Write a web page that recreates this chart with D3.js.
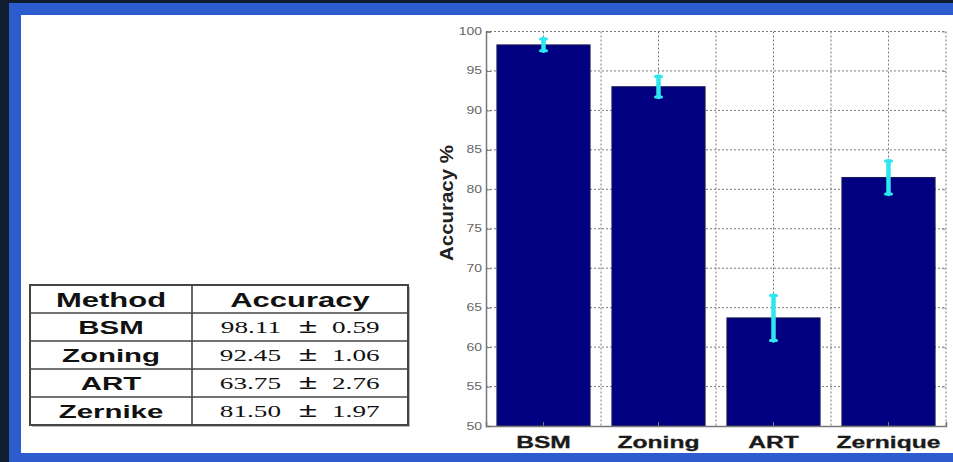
<!DOCTYPE html>
<html lang="en">
<head>
  <meta charset="UTF-8">
  <title>accuracy bar chart</title>
  <script src="https://cdn.jsdelivr.net/npm/d3@7/dist/d3.min.js"></script>
  <style>
    html, body { margin: 0; padding: 0; background: #101d2f; overflow: hidden; }
    svg { display: block; }
  </style>
</head>
<body>
<script>
  // chart data
  const categories = ['BSM', 'Zoning', 'ART', 'Zernique'];
  const barValues = [98.3, 93.0, 63.7, 81.5];
  const errValues = [0.75, 1.3, 2.85, 2.1];
  const yTicks = [50, 55, 60, 65, 70, 75, 80, 85, 90, 95, 100];

  // table data
  const tableHeader = ['Method', 'Accuracy'];
  const tableMethods = ['BSM', 'Zoning', 'ART', 'Zernike'];
  const tableMeans = ['98.11', '92.45', '63.75', '81.50'];
  const tableStds = ['0.59', '1.06', '2.76', '1.97'];

  const width = 953, height = 462;
  const margin = { top: 31.5, right: 7, bottom: 36, left: 486 };

  const svg = d3.select('body').append('svg')
    .attr('width', width).attr('height', height)
    .attr('viewBox', [0, 0, width, height]);

  // slide frame
  svg.append('rect').attr('x', 9).attr('y', 3).attr('width', width - 9).attr('height', height - 3).attr('fill', '#2c5cce');
  svg.append('rect').attr('x', 21).attr('y', 15).attr('width', width - 21).attr('height', 438).attr('fill', '#fff');

  const x = d3.scaleBand()
    .domain(categories)
    .range([margin.left, width - margin.right])
    .paddingInner(0.19)
    .paddingOuter(0.095);

  const y = d3.scaleLinear()
    .domain([50, 100])
    .range([height - margin.bottom, margin.top]);

  const gridColor = '#7a7a7a';

  // grid
  const grid = svg.append('g').attr('stroke', gridColor).attr('stroke-width', 1).attr('stroke-dasharray', '2,2');
  grid.selectAll('.hg').data(yTicks.filter(d => d > 50)).join('line')
    .attr('x1', margin.left).attr('x2', width - margin.right)
    .attr('y1', d => y(d)).attr('y2', d => y(d));
  const vx = categories.map(c => x(c) + x.bandwidth() / 2)
    .concat(d3.range(1, categories.length + 1).map(k => margin.left + k * x.step()));
  grid.selectAll('.vg').data(vx).join('line')
    .attr('x1', d => d).attr('x2', d => d)
    .attr('y1', y(100)).attr('y2', y(50));

  // y axis
  svg.append('g')
    .attr('transform', `translate(${margin.left},0)`)
    .call(d3.axisRight(y).tickValues(yTicks).tickSize(5).tickFormat(''))
    .call(g => g.selectAll('line').attr('stroke', '#777'))
    .call(g => g.select('.domain').attr('stroke', '#777').attr('stroke-width', 1.5));

  svg.append('g')
    .attr('transform', `translate(${width - margin.right},0)`)
    .call(d3.axisLeft(y).tickValues(yTicks).tickSize(4).tickFormat(''))
    .call(g => g.selectAll('line').attr('stroke', '#999'))
    .call(g => g.select('.domain').remove());

  svg.append('g').selectAll('text').data(yTicks).join('text')
    .attr('transform', d => `translate(${margin.left - 4},${y(d) + 3.5}) scale(1.4,1)`)
    .attr('text-anchor', 'end')
    .attr('font-family', 'Liberation Sans, Arial, sans-serif')
    .attr('font-size', 10)
    .attr('fill', '#666')
    .text(d => d);

  svg.append('text')
    .attr('transform', `translate(453,203) rotate(-90)`)
    .attr('text-anchor', 'middle')
    .attr('font-family', 'Liberation Sans, Arial, sans-serif')
    .attr('font-weight', 'bold')
    .attr('font-size', 18)
    .attr('textLength', 116)
    .attr('lengthAdjust', 'spacingAndGlyphs')
    .attr('fill', '#222')
    .text('Accuracy %');

  // bars
  svg.append('g').selectAll('rect').data(categories).join('rect')
    .attr('x', c => x(c))
    .attr('y', (c, i) => y(barValues[i]))
    .attr('width', x.bandwidth())
    .attr('height', (c, i) => y(50) - y(barValues[i]))
    .attr('fill', '#000080')
    .attr('stroke', '#1a1a50')
    .attr('stroke-width', 1);

  // bottom axis
  svg.append('g')
    .attr('transform', `translate(0,${y(50)})`)
    .call(d3.axisTop(x).tickSize(4).tickFormat(''))
    .call(g => g.selectAll('line').attr('stroke', '#777'))
    .call(g => g.select('.domain').attr('stroke', '#777').attr('stroke-width', 1.5));

  svg.append('g').selectAll('text').data(categories).join('text')
    .attr('transform', c => `translate(${x(c) + x.bandwidth() / 2},448) scale(1.45,1)`)
    .attr('text-anchor', 'middle')
    .attr('font-family', 'Liberation Sans, Arial, sans-serif')
    .attr('font-weight', 'bold')
    .attr('font-size', 17)
    .attr('fill', '#1a1a1a')
    .attr('stroke', '#1a1a1a').attr('stroke-width', 0.3)
    .text(c => c);

  // error bars
  const eb = svg.append('g').attr('stroke', '#2ee6f0').attr('stroke-linecap', 'round');
  categories.forEach((c, i) => {
    const cx = x(c) + x.bandwidth() / 2;
    const lo = y(barValues[i] - errValues[i]), hi = y(barValues[i] + errValues[i]);
    eb.append('line').attr('x1', cx).attr('x2', cx).attr('y1', lo).attr('y2', hi).attr('stroke-width', 4.5);
    eb.append('line').attr('x1', cx - 3).attr('x2', cx + 3).attr('y1', lo).attr('y2', lo).attr('stroke-width', 3);
    eb.append('line').attr('x1', cx - 3).attr('x2', cx + 3).attr('y1', hi).attr('y2', hi).attr('stroke-width', 3);
  });

  // table
  const tbl = { left: 30, right: 408, split: 192, top: 285, rowH: 28 };
  const rowsY = d3.range(tableMethods.length + 2).map(i => tbl.top + i * tbl.rowH);
  const tg = svg.append('g');
  tg.append('rect')
    .attr('x', tbl.left + 2).attr('y', tbl.top + 2)
    .attr('width', tbl.right - tbl.left).attr('height', rowsY[rowsY.length - 1] - tbl.top)
    .attr('fill', '#bbb');
  tg.append('rect')
    .attr('x', tbl.left).attr('y', tbl.top)
    .attr('width', tbl.right - tbl.left).attr('height', rowsY[rowsY.length - 1] - tbl.top)
    .attr('fill', '#fff').attr('stroke', '#444').attr('stroke-width', 2);
  tg.selectAll('.row').data(rowsY.slice(1, -1)).join('line')
    .attr('x1', tbl.left).attr('x2', tbl.right)
    .attr('y1', d => d).attr('y2', d => d)
    .attr('stroke', '#444').attr('stroke-width', 1.6);
  tg.append('line')
    .attr('x1', tbl.split).attr('x2', tbl.split)
    .attr('y1', tbl.top).attr('y2', rowsY[rowsY.length - 1])
    .attr('stroke', '#444').attr('stroke-width', 1.6);

  const c1 = (tbl.left + tbl.split) / 2, c2 = (tbl.split + tbl.right) / 2;
  const sans = 'Liberation Sans, Arial, sans-serif';
  const serif = 'Liberation Serif, Times New Roman, serif';

  tg.selectAll('.hd').data(tableHeader).join('text')
    .attr('transform', (d, i) => `translate(${i ? c2 : c1},${tbl.top + 22}) scale(1.55,1)`)
    .attr('text-anchor', 'middle').attr('font-family', sans).attr('font-weight', 'bold')
    .attr('font-size', 20).attr('fill', '#111').text(d => d);

  tg.selectAll('.m').data(tableMethods).join('text')
    .attr('transform', (d, i) => `translate(${c1},${rowsY[i + 1] + 20.5}) scale(1.55,1)`)
    .attr('text-anchor', 'middle').attr('font-family', sans).attr('font-weight', 'bold')
    .attr('font-size', 19).attr('fill', '#111').text(d => d);

  const numText = (data, xPos, anchor, size) => tg.append('g').selectAll('text').data(data).join('text')
    .attr('transform', (d, i) => `translate(${xPos},${rowsY[i + 1] + 20}) scale(1.6,1)`)
    .attr('text-anchor', anchor).attr('font-family', serif)
    .attr('font-size', size).attr('fill', '#111').text(d => d);
  numText(tableMeans, 281, 'end', 17);
  numText(tableMeans.map(() => '±'), 308, 'middle', 21).attr('font-weight', 'bold');
  numText(tableStds, 332, 'start', 17);
</script>
</body>
</html>
